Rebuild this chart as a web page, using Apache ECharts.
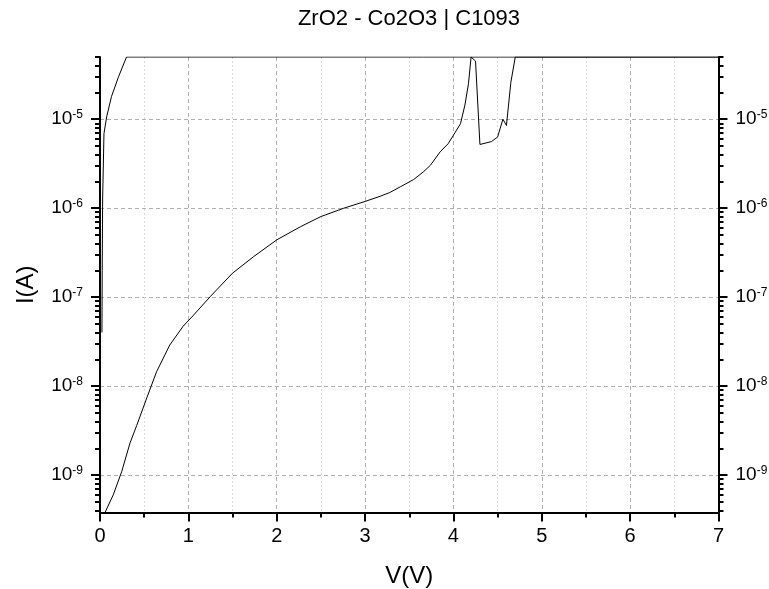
<!DOCTYPE html>
<html><head><meta charset="utf-8">
<script src="https://cdn.jsdelivr.net/npm/echarts@6/dist/echarts.min.js"></script>
<style>html,body{margin:0;padding:0;background:#fff}#c{width:769px;height:589px}</style>
</head><body><div id="c"></div>
<script>
// Forward sweep (low-current branch)
const sweepUpV = [0.04, 0.15, 0.245, 0.34, 0.415, 0.53, 0.64, 0.79, 0.94, 1.06, 1.25, 1.5, 1.74, 2.0, 2.27, 2.5, 2.76, 3.0, 3.17, 3.28, 3.40, 3.55, 3.66, 3.74, 3.85, 3.94, 4.0, 4.08, 4.13, 4.17, 4.20, 4.25, 4.30, 4.43, 4.50, 4.56, 4.60, 4.65, 4.70, 7.0];
const sweepUpI = [3.5e-10, 6e-10, 1.09e-9, 2.3e-9, 3.6e-9, 7.4e-9, 1.45e-8, 2.9e-8, 4.7e-8, 6.3e-8, 1.02e-7, 1.86e-7, 2.86e-7, 4.4e-7, 6.2e-7, 8.05e-7, 1.0e-6, 1.19e-6, 1.36e-6, 1.5e-6, 1.74e-6, 2.1e-6, 2.56e-6, 3.04e-6, 4.3e-6, 5.3e-6, 6.6e-6, 8.9e-6, 1.44e-5, 2.5e-5, 5e-5, 4.5e-5, 5.2e-6, 5.6e-6, 6.3e-6, 1.0e-5, 8.5e-6, 2.6e-5, 5e-5, 5e-5];
// Return sweep (compliance branch)
const sweepDownV = [7.0, 0.30, 0.21, 0.13, 0.075, 0.045, 0.03, 0.025, 0.022];
const sweepDownI = [5e-5, 5e-5, 3.0e-5, 1.8e-5, 1.06e-5, 6.9e-6, 1.3e-6, 2e-7, 4e-8];

const titleText = 'ZrO2 - Co2O3 | C1093';
const xTicks = [0, 1, 2, 3, 4, 5, 6, 7];
const yDecades = [1e-9, 1e-8, 1e-7, 1e-6, 1e-5];
const yMin = 3.8e-10, yMax = 5e-5;
const yMinor = [];
for (let e = -10; e <= -5; e++) {
  for (let m = 2; m <= 9; m++) {
    const v = m * Math.pow(10, e);
    if (v >= yMin && v <= yMax) yMinor.push(v);
  }
}

const FONT = 'Liberation Sans, Arial, sans-serif';
const labelRich = {
  b: { fontSize: 19, fontFamily: FONT, color: '#000' },
  s: { fontSize: 12, fontFamily: FONT, color: '#000', padding: [0, 0, 9, 0] }
};
const fmt = v => '{b|10}{s|' + Math.round(Math.log10(v)) + '}';

function yAx(pos, major) {
  return {
    type: 'log', logBase: 10, min: yMin, max: yMax, position: pos,
    axisLine: { show: major, onZero: false, lineStyle: { color: '#000', width: 2 } },
    axisTick: { show: true, inside: false, length: major ? 9 : 5, customValues: major ? yDecades : yMinor,
      lineStyle: { color: '#000', width: 2 } },
    axisLabel: { show: major, customValues: yDecades, formatter: fmt, rich: labelRich, margin: 17 },
    splitLine: { show: major && pos === 'left', lineStyle: { color: '#b0b0b0', type: [4, 3], width: 1 } },
    minorTick: { show: false }, minorSplitLine: { show: false }
  };
}

const chart = echarts.init(document.getElementById('c'), null, { renderer: 'canvas' });
chart.setOption({
  animation: false,
  backgroundColor: '#fff',
  graphic: [{
    type: 'text', x: 409, y: 19,
    style: { text: titleText, x: 0, y: 0, align: 'center', verticalAlign: 'middle',
      fontFamily: FONT, fontSize: 22, fill: '#000' }
  }],
  grid: { left: 100, right: 50.5, top: 57, bottom: 76.5, containLabel: false, outerBoundsMode: 'none' },
  xAxis: [{
    type: 'value', min: 0, max: 7, interval: 1, position: 'bottom',
    name: 'V(V)', nameLocation: 'middle', nameGap: 52,
    nameTextStyle: { fontFamily: FONT, fontSize: 24, color: '#000' },
    axisLine: { onZero: false, lineStyle: { color: '#000', width: 2 } },
    axisTick: { length: 9, lineStyle: { color: '#000', width: 2 } },
    minorTick: { show: true, splitNumber: 2, length: 5, lineStyle: { color: '#000', width: 2 } },
    axisLabel: { fontFamily: FONT, fontSize: 20, color: '#000', margin: 14,
      customValues: xTicks, formatter: v => String(v) },
    splitLine: { show: true, lineStyle: { color: '#b0b0b0', type: [4, 3], width: 1 } },
    minorSplitLine: { show: true, lineStyle: { color: '#dcdcdc', type: [2, 2], width: 1 } }
  }],
  yAxis: [
    Object.assign(yAx('left', true), {
      name: 'I(A)', nameLocation: 'middle', nameGap: 62,
      nameTextStyle: { fontFamily: FONT, fontSize: 24, color: '#000' }
    }),
    yAx('left', false),
    yAx('right', true),
    yAx('right', false)
  ],
  series: [
    { type: 'line', xAxisIndex: 0, yAxisIndex: 0, showSymbol: false, symbol: 'none',
      lineStyle: { color: '#000', width: 1 },
      data: sweepUpV.map((v, i) => [v, sweepUpI[i]]) },
    { type: 'line', xAxisIndex: 0, yAxisIndex: 0, showSymbol: false, symbol: 'none',
      lineStyle: { color: '#000', width: 1 },
      data: sweepDownV.map((v, i) => [v, sweepDownI[i]]) }
  ]
});
</script></body></html>
